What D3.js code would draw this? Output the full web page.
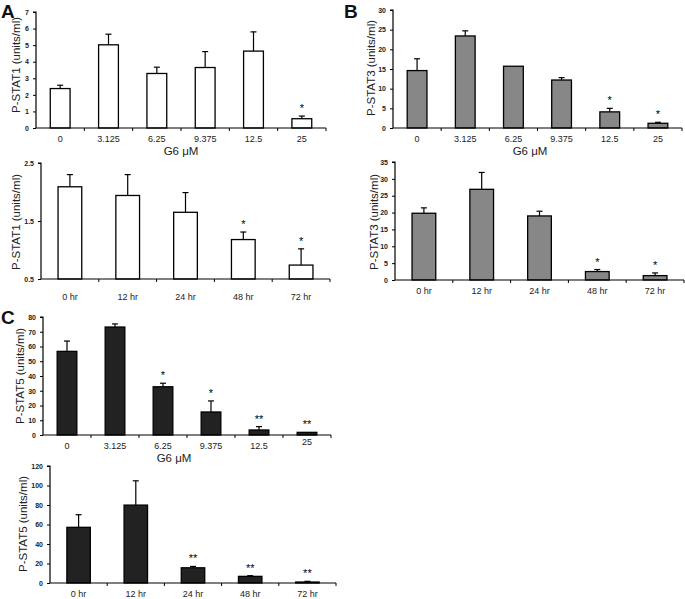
<!DOCTYPE html>
<html><head><meta charset="utf-8">
<script src="https://cdn.jsdelivr.net/npm/d3@7"></script>
<style>
body{margin:0;background:#fff;}
svg{display:block;font-family:"Liberation Sans",Arial,sans-serif;}
</style></head>
<body>
<script>
// ---- data ----
const doseCats = ["0","3.125","6.25","9.375","12.5","25"];
const timeCats = ["0 hr","12 hr","24 hr","48 hr","72 hr"];

const stat1Dose    = [2.38, 5.02, 3.29, 3.65, 4.64, 0.56];
const stat1DoseErr = [0.20, 0.64, 0.38, 0.96, 1.16, 0.16];
const stat1DoseSig = ["", "", "", "", "", "*"];

const stat1Time    = [2.09, 1.94, 1.65, 1.18, 0.74];
const stat1TimeErr = [0.21, 0.36, 0.34, 0.13, 0.28];
const stat1TimeSig = ["", "", "", "*", "*"];

const stat3Dose    = [14.6, 23.4, 15.7, 12.2, 4.1, 1.2];
const stat3DoseErr = [3.0, 1.3, 0, 0.6, 0.9, 0.25];
const stat3DoseSig = ["", "", "", "", "*", "*"];

const stat3Time    = [19.8, 26.9, 19.0, 2.5, 1.3];
const stat3TimeErr = [1.6, 5.0, 1.4, 0.6, 0.8];
const stat3TimeSig = ["", "", "", "*", "*"];

const stat5Dose    = [56.7, 73.2, 32.7, 15.6, 3.4, 1.8];
const stat5DoseErr = [7.0, 2.1, 2.4, 7.5, 2.3, 0];
const stat5DoseSig = ["", "", "*", "*", "**", "**"];

const stat5Time    = [57.1, 79.9, 15.6, 6.8, 1.0];
const stat5TimeErr = [12.9, 24.9, 1.4, 0.7, 0.7];
const stat5TimeSig = ["", "", "**", "**", "**"];

const ticksA1 = [0,1,2,3,4,5,6,7];
const ticksA2 = [0.5,1.5,2.5];
const ticksB1 = [0,5,10,15,20,25,30];
const ticksB2 = [0,5,10,15,20,25,30,35];
const ticksC1 = [0,10,20,30,40,50,60,70,80];
const ticksC2 = [0,20,40,60,80,100,120];

const yTitle1 = "P-STAT1 (units/ml)";
const yTitle3 = "P-STAT3 (units/ml)";
const yTitle5 = "P-STAT5 (units/ml)";
const xTitleDose = "G6 \u03BCM";
const panelLetters = ["A","B","C"];

// ---- drawing ----
const svg = d3.select("body").append("svg").attr("width",685).attr("height",599);

function panel(o){
  const g = svg.append("g");
  const x = d3.scaleBand().domain(o.cats).range([o.x0,o.x1]).paddingInner(0.59).paddingOuter(0.295);
  const y = d3.scaleLinear().domain([o.ticks[0], o.ticks[o.ticks.length-1]]).range([o.yb,o.yt]);
  const step = x.step();
  // bars
  o.cats.forEach((c,i)=>{
    const v=o.vals[i], e=o.errs[i];
    const bx=x(c), bw=x.bandwidth(), cx=bx+bw/2;
    g.append("rect").attr("x",bx).attr("y",y(v)).attr("width",bw).attr("height",y(o.ticks[0])-y(v))
      .attr("fill",o.fill).attr("stroke","#000").attr("stroke-width",1.3);
    if(e>0){
      g.append("line").attr("x1",cx).attr("x2",cx).attr("y1",y(v)).attr("y2",y(v+e)).attr("stroke","#000").attr("stroke-width",1.2);
      g.append("line").attr("x1",cx-3).attr("x2",cx+3).attr("y1",y(v+e)).attr("y2",y(v+e)).attr("stroke","#000").attr("stroke-width",1.2);
    }
    if(o.sig[i]){
      g.append("text").attr("x",cx).attr("y",y(v+e)-4).attr("text-anchor","middle")
        .attr("font-size",11).attr("fill","#000").text(o.sig[i]);
    }
  });
  // y axis
  const ya = d3.axisLeft(y).tickValues(o.ticks).tickSize(3).tickPadding(4).tickFormat(d3.format(o.fmt||"d"));
  const yg = g.append("g").attr("transform",`translate(${o.x0},0)`).call(ya);
  yg.select(".domain").attr("stroke","#000").attr("stroke-width",1.2).attr("d",`M-3,${o.yt}H0V${y(o.ticks[0])}`);
  yg.selectAll(".tick line").attr("stroke","#000");
  yg.selectAll(".tick text").attr("font-size",7).attr("font-weight","bold").attr("fill","#222").attr("font-family","Liberation Sans, Arial, sans-serif");
  // x axis
  const yb = y(o.ticks[0]);
  g.append("line").attr("x1",o.x0).attr("x2",o.x1).attr("y1",yb).attr("y2",yb).attr("stroke","#000").attr("stroke-width",1.2);
  for(let k=1;k<=o.cats.length;k++){
    const tx=o.x0+k*step;
    g.append("line").attr("x1",tx).attr("x2",tx).attr("y1",yb).attr("y2",yb+3).attr("stroke","#000");
  }
  o.cats.forEach((c,i)=>{
    g.append("text").attr("x",x(c)+x.bandwidth()/2).attr("y",o.labY - ((o.raise&&o.raise[i])||0)).attr("text-anchor","middle")
      .attr("font-size",9).attr("fill","#222").text(c);
  });
  // titles
  g.append("text").attr("transform",`translate(${o.tx},${o.ty}) rotate(-90)`).attr("text-anchor","middle")
    .attr("font-size",11.5).attr("fill","#222").text(o.yTitle);
  if(o.xTitle){
    g.append("text").attr("x",o.xtx).attr("y",o.xty).attr("text-anchor","middle").attr("font-size",11.5).attr("fill","#222").text(o.xTitle);
  }
}

panel({cats:doseCats,vals:stat1Dose,errs:stat1DoseErr,sig:stat1DoseSig,ticks:ticksA1,fill:"#fff",
  x0:36,x1:326,yt:12,yb:128,labY:142,tx:20,ty:65,yTitle:yTitle1,xTitle:xTitleDose,xtx:181,xty:155});
panel({cats:timeCats,vals:stat1Time,errs:stat1TimeErr,sig:stat1TimeSig,ticks:ticksA2,fill:"#fff",fmt:".1f",
  x0:41,x1:330,yt:163,yb:279,labY:300,tx:20,ty:222,yTitle:yTitle1});
panel({cats:doseCats,vals:stat3Dose,errs:stat3DoseErr,sig:stat3DoseSig,ticks:ticksB1,fill:"#878787",
  x0:393,x1:682,yt:10,yb:128,labY:142,tx:375,ty:68,yTitle:yTitle3,xTitle:xTitleDose,xtx:530,xty:155});
panel({cats:timeCats,vals:stat3Time,errs:stat3TimeErr,sig:stat3TimeSig,ticks:ticksB2,fill:"#878787",
  x0:395,x1:684,yt:162,yb:280,labY:294,tx:378,ty:222,yTitle:yTitle3});
panel({cats:doseCats,vals:stat5Dose,errs:stat5DoseErr,sig:stat5DoseSig,ticks:ticksC1,fill:"#222",
  x0:43,x1:331,yt:317,yb:435,labY:449,tx:24,ty:376,yTitle:yTitle5,xTitle:xTitleDose,xtx:174,xty:462,raise:[0,0,0,0,0,4]});
panel({cats:timeCats,vals:stat5Time,errs:stat5TimeErr,sig:stat5TimeSig,ticks:ticksC2,fill:"#222",
  x0:50,x1:336,yt:466,yb:583,labY:597,tx:27,ty:524,yTitle:yTitle5});

// panel letters
const letterPos = [[1,18],[344,18],[1,324]];
panelLetters.forEach((L,i)=>{
  svg.append("text").attr("x",letterPos[i][0]).attr("y",letterPos[i][1]).attr("font-size",19).attr("font-weight","bold").attr("fill","#111").text(L);
});
</script>
</body></html>
